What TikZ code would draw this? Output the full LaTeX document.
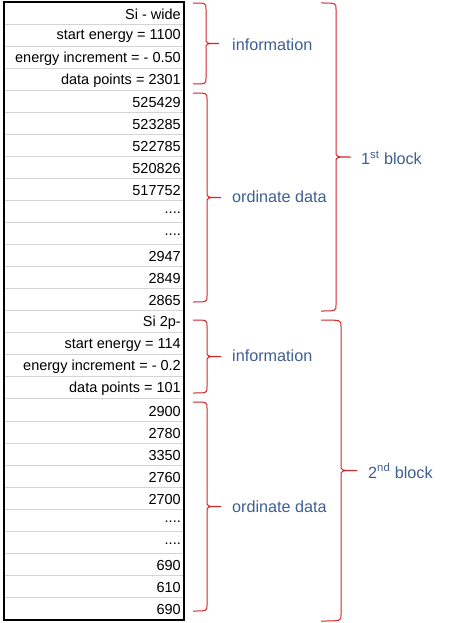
\documentclass[tikz,border=0pt]{standalone}
\usepackage{fontspec}
\setmainfont{Liberation Sans}
\definecolor{lbl}{RGB}{62,96,146}
\definecolor{brc}{RGB}{212,38,38}
\definecolor{gridc}{RGB}{212,212,212}
\newcommand\fourdots{.\kern0pt.\kern0pt.\kern0pt.}
\newcommand\redbrace[5]{% x0, xv, xt, top, bottom
  \draw[bracestyle] (#1,#4) .. controls (#2,#4) .. (#2,#4+6)
    -- (#2,{(#4+#5)/2-5}) .. controls (#2,{(#4+#5)/2}) .. (#3,{(#4+#5)/2})
    .. controls (#2,{(#4+#5)/2}) .. (#2,{(#4+#5)/2+5})
    -- (#2,#5-6) .. controls (#2,#5) .. (#1,#5);}
\begin{document}
\begin{tikzpicture}[x=1pt,y=-1pt,
  cell/.style={anchor=east,inner sep=0pt,font=\fontsize{14.5}{17}\selectfont},
  lab/.style={anchor=west,inner sep=0pt,text=lbl,font=\fontsize{16.2}{19}\selectfont},
  bracestyle/.style={draw=brc,line width=1pt}]
\useasboundingbox (0,0) rectangle (450,623);
\fill[white] (0,0) rectangle (450,623);
\foreach \i in {1,...,27}
  \draw[gridc,line width=0.9pt] (3.5,{2+\i*22.05}) -- (184,{2+\i*22.05});
\draw[line width=2pt] (3.5,2) rectangle (184,619.5);
\foreach \t [count=\i] in {{Si - wide},{start energy = 1100},{energy increment = - 0.50},{data points = 2301},
  525429,523285,522785,520826,517752,\fourdots,\fourdots,2947,2849,2865,
  {Si 2p-},{start energy = 114},{energy increment = - 0.2},{data points = 101},
  2900,2780,3350,2760,2700,\fourdots,\fourdots,690,610,690}
  \node[cell] (r\i) at (181,{3.3+(\i-0.5)*22.05}) {\t};
\redbrace{193}{206}{219}{3}{84}
\redbrace{193}{207}{221}{93}{302}
\redbrace{193}{207}{221}{320}{393}
\redbrace{193}{207}{221}{402}{611}
\redbrace{321}{336}{351}{3}{311}
\redbrace{321}{341}{357}{320}{621}
\node[lab] (info1) at (232,45) {information};
\node[lab] (ord1) at (232,197) {ordinate data};
\node[lab] (info2) at (232,356) {information};
\node[lab] (ord2) at (232,507) {ordinate data};
\node[lab] (blk1) at (361,158) {1\textsuperscript{st} block};
\node[lab] (blk2) at (368,471) {2\textsuperscript{nd} block};
\end{tikzpicture}
\end{document}
